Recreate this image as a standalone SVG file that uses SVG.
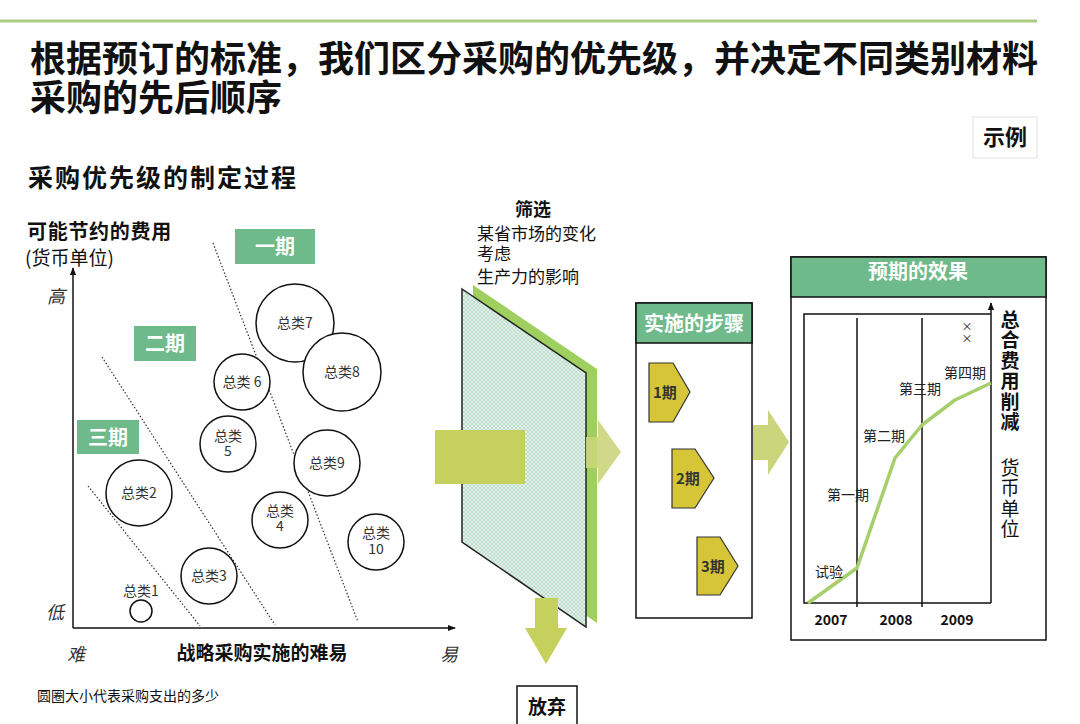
<svg xmlns="http://www.w3.org/2000/svg" width="1080" height="724" viewBox="0 0 1080 724">
<style>
text{font-family:"Noto Sans CJK SC","Noto Sans",sans-serif;fill:#111}
.t{font-size:36px;font-weight:700}
.b{font-weight:700}
.c{font-size:14px;fill:#333;text-anchor:middle}
.lab{fill:#6fba8a}
.lt{font-size:20px;font-weight:700;fill:#fff;text-anchor:middle}
.circ{fill:#fff;stroke:#111;stroke-width:1.5}
.dot{stroke:#333;stroke-width:1.2;stroke-dasharray:1.5 2;fill:none}
.ax{stroke:#111;stroke-width:1.5;fill:none}
.it{font-style:italic;font-size:18px;fill:#333}
.step{fill:#d6c637;stroke:#333;stroke-width:1.2}
.st{font-size:15px;font-weight:700;fill:#333}
.ol{fill:#c6d05c}
.ol2{fill:#cbd57c}
.cl{font-size:14px;fill:#222;text-anchor:middle}
.v{writing-mode:vertical-rl;font-size:19px;letter-spacing:1.5px}
</style>
<defs>
<marker id="ah" viewBox="0 0 10 10" refX="9" refY="5" markerWidth="8" markerHeight="8" orient="auto" markerUnits="userSpaceOnUse"><path d="M0,1 L10,5 L0,9 Z" fill="#111"/></marker>
<pattern id="hatch" width="4" height="4" patternUnits="userSpaceOnUse">
<rect width="4" height="4" fill="#e6f3ec"/>
<path d="M0,0 L4,4 M4,0 L0,4" stroke="#a9d3bd" stroke-width="0.7"/>
</pattern>
</defs>
<rect width="1080" height="724" fill="#fff"/>
<line x1="0" y1="21" x2="1037" y2="21" stroke="#a8cd80" stroke-width="3"/>
<text class="t" x="30" y="72">根据预订的标准，我们区分采购的优先级，并决定不同类别材料</text>
<text class="t" x="30" y="111">采购的先后顺序</text>
<g id="example"><rect x="973" y="117" width="64" height="41" fill="#fff" stroke="#e2e2e2"/><text x="1005" y="145" font-size="22" class="b" text-anchor="middle">示例</text></g>
<text x="28" y="187" font-size="25" class="b" letter-spacing="2">采购优先级的制定过程</text>

<g id="matrix">
<text x="27" y="239" font-size="20" class="b" letter-spacing="0.7">可能节约的费用</text>
<text x="25" y="265" font-size="19" fill="#222">(货币单位)</text>
<line class="ax" x1="73" y1="628" x2="73" y2="268" marker-end="url(#ah)"/>
<line class="ax" x1="73" y1="628" x2="455" y2="628" marker-end="url(#ah)"/>
<text class="it" x="47" y="303">高</text>
<text class="it" x="46" y="619">低</text>
<text class="it" x="67" y="661">难</text>
<text class="it" x="440" y="661">易</text>
<text x="262" y="660" font-size="19" class="b" text-anchor="middle">战略采购实施的难易</text>
<text x="37" y="701" font-size="14" fill="#333">圆圈大小代表采购支出的多少</text>
<line class="dot" x1="213" y1="243" x2="358" y2="622"/>
<line class="dot" x1="102" y1="357" x2="275" y2="625"/>
<line class="dot" x1="88" y1="486" x2="200" y2="626"/>
</g>
<g id="phase1"><rect class="lab" x="235" y="229" width="80" height="35"/><text class="lt" x="275" y="254">一期</text></g>
<g id="phase2"><rect class="lab" x="134" y="326" width="62" height="35"/><text class="lt" x="165" y="351">二期</text></g>
<g id="phase3"><rect class="lab" x="77" y="420" width="62" height="34"/><text class="lt" x="108" y="445">三期</text></g>

<g id="cat7"><circle class="circ" cx="295" cy="323" r="39"/><text class="c" x="295" y="328">总类7</text></g>
<g id="cat8"><circle class="circ" cx="342" cy="372" r="39"/><text class="c" x="342" y="377">总类8</text></g>
<g id="cat6"><circle class="circ" cx="242" cy="382" r="28"/><text class="c" x="242" y="387">总类 6</text></g>
<g id="cat5"><circle class="circ" cx="228" cy="444" r="28"/><text class="c" x="228" y="441">总类</text><text class="c" x="228" y="456">5</text></g>
<g id="cat9"><circle class="circ" cx="327" cy="463" r="33"/><text class="c" x="327" y="468">总类9</text></g>
<g id="cat2"><circle class="circ" cx="139" cy="493" r="33"/><text class="c" x="139" y="498">总类2</text></g>
<g id="cat4"><circle class="circ" cx="280" cy="520" r="28"/><text class="c" x="280" y="516">总类</text><text class="c" x="280" y="531">4</text></g>
<g id="cat10"><circle class="circ" cx="376" cy="542" r="28"/><text class="c" x="376" y="538">总类</text><text class="c" x="376" y="554">10</text></g>
<g id="cat3"><circle class="circ" cx="209" cy="576" r="28"/><text class="c" x="209" y="581">总类3</text></g>
<g id="cat1"><circle class="circ" cx="141" cy="611" r="11"/><text class="c" x="141" y="596">总类1</text></g>

<g id="filter">
<text x="533" y="216" font-size="18" class="b" text-anchor="middle">筛选</text>
<text x="477" y="240" font-size="17" fill="#222">某省市场的变化</text>
<text x="477" y="260" font-size="17" fill="#222">考虑</text>
<text x="477" y="283" font-size="17" fill="#222">生产力的影响</text>
<polygon points="473,285 597,369 597,623 473,538" fill="#9fcf5e"/>
<polygon points="462,289 586,373 586,627 462,542" fill="url(#hatch)" stroke="#222" stroke-width="1.5"/>
</g>

<g id="connectors">
<rect class="ol" x="435" y="430" width="90" height="54"/>
<polygon class="ol2" points="586,437 598,437 598,420 621,452 598,484 598,468 586,468" opacity="0.9"/>
<polygon class="ol" points="535,598 558,598 558,628 567,628 546,664 525,628 535,628"/>
<polygon class="ol2" points="753,425 768,425 768,410 789,442 768,475 768,460 753,460"/>
</g>

<g id="discard"><rect x="517" y="686" width="60" height="40" fill="#fff" stroke="#111" stroke-width="1.5"/><text x="547" y="714" font-size="19" class="b" text-anchor="middle">放弃</text></g>

<g id="steps">
<rect x="636" y="303" width="116" height="315" fill="#fff" stroke="#111" stroke-width="1.5"/>
<rect x="636" y="303" width="116" height="40" fill="#6fba8a" stroke="#111" stroke-width="1.5"/>
<text class="lt" x="694" y="331">实施的步骤</text>
<polygon class="step" points="649,363 673,363 690,392 673,422 649,422"/>
<text class="st" x="653" y="398">1期</text>
<polygon class="step" points="672,449 695,449 714,478 695,508 672,508"/>
<text class="st" x="676" y="484">2期</text>
<polygon class="step" points="697,537 720,537 738,566 720,595 697,595"/>
<text class="st" x="701" y="572">3期</text>
</g>

<g id="result">
<rect x="791" y="257" width="255" height="383" fill="#fff" stroke="#111" stroke-width="1.5"/>
<rect x="791" y="257" width="255" height="40" fill="#6fba8a" stroke="#111" stroke-width="1.5"/>
<text class="lt" x="918" y="279">预期的效果</text>
<polyline points="991,603 804,603 804,314 991,314" fill="none" stroke="#111" stroke-width="1.5"/>
<line x1="991" y1="603" x2="991" y2="303" stroke="#111" stroke-width="1.5" marker-end="url(#ah)"/>
<line x1="857" y1="318" x2="857" y2="607" stroke="#111" stroke-width="1.5"/>
<line x1="922" y1="318" x2="922" y2="607" stroke="#111" stroke-width="1.5"/>
<polyline points="808,603 857,568 895,458 922,425 955,400 991,383" fill="none" stroke="#a6cf6c" stroke-width="3.5" stroke-linejoin="round"/>
<text class="cl" x="829" y="577">试验</text>
<text class="cl" x="848" y="500">第一期</text>
<text class="cl" x="884" y="441">第二期</text>
<text class="cl" x="920" y="394">第三期</text>
<text class="cl" x="965" y="378">第四期</text>
<text x="967" y="321" font-size="11" fill="#222" style="writing-mode:vertical-rl" letter-spacing="1">××</text>
<text x="831" y="625" font-size="14" class="b" text-anchor="middle">2007</text>
<text x="896" y="625" font-size="14" class="b" text-anchor="middle">2008</text>
<text x="957" y="625" font-size="14" class="b" text-anchor="middle">2009</text>
<text class="v b" x="1010" y="310">总合费用削减</text>
<text class="v" x="1010" y="458" fill="#222">货币单位</text>
</g>
</svg>
